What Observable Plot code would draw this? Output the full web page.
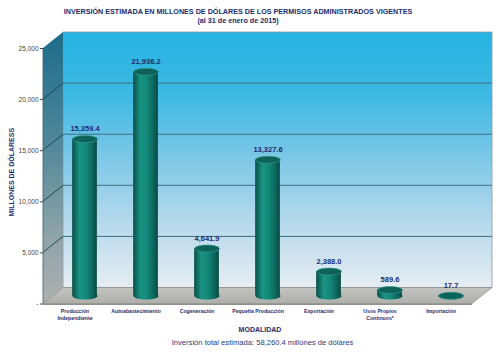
<!DOCTYPE html>
<html>
<head>
<meta charset="utf-8">
<script src="https://cdn.jsdelivr.net/npm/d3@7"></script>
<script src="https://cdn.jsdelivr.net/npm/@observablehq/plot@0.6"></script>
<style>
  body { margin: 0; background: #fff; width: 500px; height: 353px; overflow: hidden; font-family: "Liberation Sans", Arial, sans-serif; }
  #title { height: 26px; box-sizing: border-box; padding-top: 6.5px; padding-right: 24px; text-align: center; color: #202c6e; font-weight: bold; font-size: 7.2px; line-height: 9px; }
  #chart svg { display: block; }
  #caption { margin-top: 1px; padding-left: 25px; text-align: center; color: #2b3a80; font-size: 7.6px; line-height: 10px; }
</style>
</head>
<body>
<div id="title">INVERSIÓN ESTIMADA EN MILLONES DE DÓLARES DE LOS PERMISOS ADMINISTRADOS VIGENTES<br>(al 31 de enero de 2015)</div>
<div id="chart"></div>
<div id="caption">Inversión total estimada: 58,260.4 millones de dólares</div>
<script>
const categories = ["Producción Independiente", "Autoabastecimiento", "Cogeneración", "Pequeña Producción", "Exportación", "Usos Propios Continuos*", "Importación"];
const tickLabels = ["Producción\nIndependiente", "Autoabastecimiento", "Cogeneración", "Pequeña Producción", "Exportación", "Usos Propios\nContinuos*", "Importación"];
const values = [15359.4, 21936.2, 4641.9, 13327.6, 2388.0, 589.6, 17.7];
const yTicks = [0, 5000, 10000, 15000, 20000, 25000];

const data = categories.map((c, i) => ({cat: c, value: values[i], tick: tickLabels[i]}));
const fmt = d3.format(",.1f");
const navy = "#1f2b6e";

const DX = 20, DY = -16;      // depth of the 3D box
const MX = 10, MY = -8;       // bars sit at mid depth

const ellipseSymbol = {
  draw(ctx, size) {
    const rx = Math.sqrt(size / Math.PI), ry = rx * 0.28, k = 0.5523;
    ctx.moveTo(rx, 0);
    ctx.bezierCurveTo(rx, ry * k, rx * k, ry, 0, ry);
    ctx.bezierCurveTo(-rx * k, ry, -rx, ry * k, -rx, 0);
    ctx.bezierCurveTo(-rx, -ry * k, -rx * k, -ry, 0, -ry);
    ctx.bezierCurveTo(rx * k, -ry, rx, -ry * k, rx, 0);
    ctx.closePath();
  }
};

function walls(index, scales, values, dims) {
  const {y} = scales;
  const x0 = dims.marginLeft, x1 = dims.width - dims.marginRight;
  const yTop = y(yTicks[yTicks.length - 1]), yBot = y(0);
  const g = d3.create("svg:g");
  const defs = g.append("defs");
  const lin = (id, x2, y2, stops) => {
    const gr = defs.append("linearGradient").attr("id", id).attr("x1", 0).attr("y1", 0).attr("x2", x2).attr("y2", y2);
    stops.forEach(([o, c]) => gr.append("stop").attr("offset", o).attr("stop-color", c));
  };
  lin("backWall", 0, 1, [[0, "#26b3e2"], [0.25, "#3db9e3"], [0.5, "#7ec8e7"], [0.75, "#b6d9ec"], [1, "#e5edf2"]]);
  lin("leftWall", 0, 1, [[0, "#1b6c8a"], [0.4, "#4f8799"], [0.75, "#8ea3a8"], [1, "#aeb0b0"]]);
  lin("floor", 0, 1, [[0, "#c3c3c0"], [1, "#aeaeab"]]);
  lin("cyl", 1, 0, [[0, "#094f47"], [0.3, "#1a9484"], [0.55, "#13887a"], [0.85, "#0c6359"], [1, "#08463f"]]);
  const pts = a => a.map(p => p.join(",")).join(" ");
  g.append("polygon").attr("points", pts([[x0 + DX, yTop + DY], [x1 + DX, yTop + DY], [x1 + DX, yBot + DY], [x0 + DX, yBot + DY]]))
    .attr("fill", "url(#backWall)").attr("stroke", "#8c9aa0").attr("stroke-width", 0.8);
  g.append("polygon").attr("points", pts([[x0, yTop], [x0 + DX, yTop + DY], [x0 + DX, yBot + DY], [x0, yBot]]))
    .attr("fill", "url(#leftWall)");
  g.append("polygon").attr("points", pts([[x0, yBot], [x0 + DX, yBot + DY], [x1 + DX, yBot + DY], [x1, yBot]]))
    .attr("fill", "url(#floor)").attr("stroke", "#8a8a88").attr("stroke-width", 0.7);
  g.append("polygon").attr("points", pts([[x0, yBot], [x1, yBot], [x1, yBot + 1.5], [x0, yBot + 1.5]]))
    .attr("fill", "#8f8f8c");
  yTicks.filter(t => t > 0 && t < yTicks[yTicks.length - 1]).forEach(t => {
    const yy = y(t);
    g.append("line").attr("x1", x0 + DX).attr("x2", x1 + DX).attr("y1", yy + DY).attr("y2", yy + DY)
      .attr("stroke", "#3f6f7d").attr("stroke-width", 1);
    g.append("line").attr("x1", x0).attr("x2", x0 + DX).attr("y1", yy).attr("y2", yy + DY)
      .attr("stroke", "#1c4a58").attr("stroke-width", 1);
  });
  g.append("line").attr("x1", x0).attr("x2", x0).attr("y1", yTop).attr("y2", yBot).attr("stroke", "#3b5f6a").attr("stroke-width", 0.8);
  return g.node();
}

const plot = Plot.plot({
  width: 500,
  height: 311,
  marginLeft: 43,
  marginRight: 28,
  marginTop: 22,
  marginBottom: 33.5,
  style: {fontFamily: "'Liberation Sans', Arial, sans-serif", background: "transparent"},
  x: {domain: categories, padding: 0, axis: null},
  y: {domain: [0, 25000], axis: null},
  marks: [
    walls,
    Plot.axisY(yTicks, {
      tickFormat: d => d === 0 ? "-" : d3.format(",")(d),
      tickSize: 3, tickPadding: 2, fontSize: 6.5, color: "#444", label: null
    }),
    Plot.dot(data, {x: "cat", y: () => 0, r: 12.5, symbol: ellipseSymbol, fill: "url(#cyl)", stroke: "none", dx: MX, dy: MY}),
    Plot.barY(data, {x: "cat", y: "value", fill: "url(#cyl)", insetLeft: 18.15, insetRight: 18.15, dx: MX, dy: MY}),
    Plot.dot(data, {x: "cat", y: "value", r: 12.5, symbol: ellipseSymbol, fill: "#0d6359", stroke: "#3a9f90", strokeWidth: 0.6, dx: MX, dy: MY}),
    Plot.text(data, {x: "cat", y: "value", text: d => fmt(d.value), dx: MX, dy: -18, fill: navy, fontSize: 7.5, fontWeight: "bold"}),
    Plot.text(data, {x: "cat", text: "tick", frameAnchor: "bottom", lineAnchor: "top", dy: 3.5, lineHeight: 1.38, fill: navy, fontSize: 5.2, fontWeight: "bold"}),
    Plot.text(["MODALIDAD"], {frameAnchor: "bottom", dx: 2, dy: 28, fill: navy, fontSize: 7, fontWeight: "bold"}),
    Plot.text(["MILLONES DE DÓLARESS"], {frameAnchor: "left", textAnchor: "middle", rotate: -90, dx: -32, dy: -4, fill: navy, fontSize: 7, fontWeight: "bold"})
  ]
});
document.getElementById("chart").appendChild(plot);
</script>
</body>
</html>
